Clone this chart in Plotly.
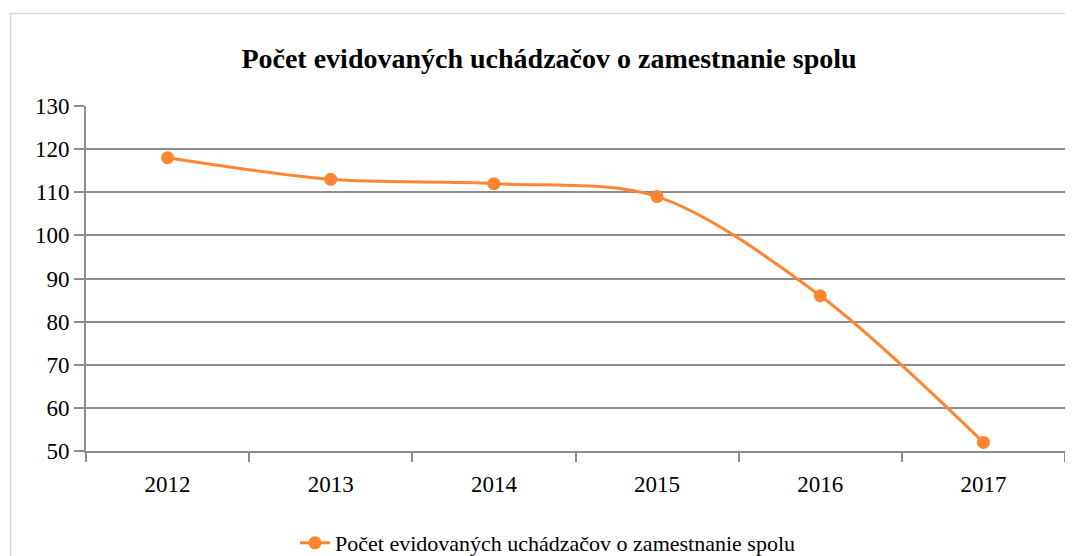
import plotly.graph_objects as go

years = ["2012", "2013", "2014", "2015", "2016", "2017"]
values = [118, 113, 112, 109, 86, 52]
series_name = "Počet evidovaných uchádzačov o zamestnanie spolu"
title_text = "Počet evidovaných uchádzačov o zamestnanie spolu"

# the page places the figure 8px from the top-left corner
OFF = 8
W, H = 1073 - OFF, 556 - OFF
L, R, T, B = 86 - OFF, 8, 106 - OFF, 556 - 451
pw = W - L - R
ph = H - T - B

orange = "#ff8533"
grid = "#8c8c8c"

fig = go.Figure()
fig.add_trace(go.Scatter(
    x=years, y=values, name=series_name, mode="lines+markers",
    line=dict(color=orange, width=3, shape="spline", smoothing=0.9),
    marker=dict(color=orange, size=13),
))

def px_x(p):
    return (p - OFF - L) / pw

def px_y(p):
    return (H - B - (p - OFF)) / ph

fig.add_shape(type="rect", xref="paper", yref="paper",
              x0=px_x(10.5), x1=px_x(1072.5), y0=px_y(560), y1=px_y(13.5),
              line=dict(color="#d9d9d9", width=1.5), layer="below")

fig.update_layout(
    width=W, height=H,
    margin=dict(l=L, r=R, t=T, b=B, autoexpand=False),
    paper_bgcolor="white", plot_bgcolor="white",
    font=dict(family="Liberation Serif", color="black"),
    title=dict(text="<b>" + title_text + "</b>", x=(549 - OFF) / W, xanchor="center",
               y=1 - (58 - OFF) / H, yanchor="middle",
               font=dict(size=28, family="Liberation Serif", color="black")),
    showlegend=True,
    legend=dict(orientation="h", x=(548 - OFF) / W, xanchor="center", xref="container",
                y=1 - (543 - OFF) / H, yanchor="middle", yref="container",
                font=dict(size=22, family="Liberation Serif", color="black")),
    xaxis=dict(type="category", range=[-0.5, 5.5], showgrid=False,
               showline=True, linecolor=grid, linewidth=2, automargin=False,
               tickson="boundaries", ticks="outside", ticklen=9, tickwidth=2,
               tickcolor=grid, tickfont=dict(size=23), ticklabelstandoff=11),
    yaxis=dict(range=[50, 130], dtick=10, showgrid=True, gridcolor=grid,
               gridwidth=2, showline=True, linecolor=grid, linewidth=2,
               automargin=False,
               ticks="outside", ticklen=10, tickwidth=2, tickcolor=grid,
               tickfont=dict(size=23), zeroline=False),
)

fig.write_html("out.html")
